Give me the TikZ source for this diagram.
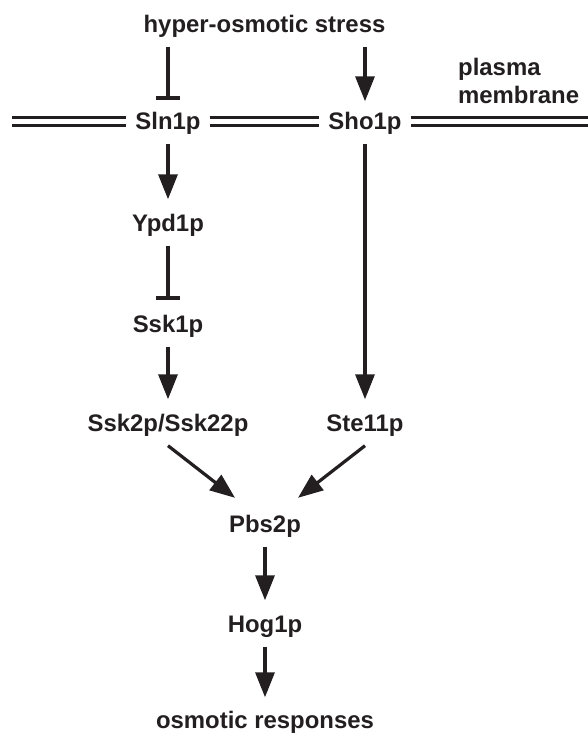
\documentclass[tikz,border=0pt]{standalone}
\usepackage{fontspec}
\setmainfont{Liberation Sans}
\usetikzlibrary{arrows.meta}
\definecolor{ink}{HTML}{231F20}
\begin{document}
\begin{tikzpicture}[x=1pt,y=-1pt,
  lbl/.style={font=\fontsize{23.9}{28}\selectfont\bfseries, text=ink,
    inner xsep=9pt, inner ysep=14.5pt, text height=17pt, text depth=0pt, anchor=base},
  act/.style={draw=ink, line width=3.2pt, -{Triangle[length=25pt,width=19pt]}},
  inh/.style={draw=ink, line width=3.2pt, -{Bar[width=24pt,line width=4pt]}},
  membrane/.style={draw=ink, line width=2.2pt, double=white, double distance=5.8pt}]
\useasboundingbox (0,0) rectangle (587,734);

% stimulus and membrane proteins
\node[lbl] (stress) at (264.5,32) {hyper-osmotic stress};
\node[lbl] (sln) at (168,129) {Sln1p};
\node[lbl] (sho) at (365,129) {Sho1p};
\node[font=\fontsize{23.9}{28}\selectfont\bfseries, text=ink, inner sep=0pt,
  align=left, anchor=north west] (pm) at (458,58) {plasma\\membrane};

% Sln1p branch
\node[lbl] (ypd) at (168,231) {Ypd1p};
\node[lbl] (ssk1) at (168,332) {Ssk1p};
\node[lbl] (ssk2) at (168,431) {Ssk2p/Ssk22p};
% Sho1p branch
\node[lbl] (ste) at (365,431) {Ste11p};
% common MAPK module
\node[lbl] (pbs) at (265,532) {Pbs2p};
\node[lbl] (hog) at (265,632) {Hog1p};
\node[lbl] (resp) at (265,728) {osmotic responses};

% plasma membrane (double line)
\coordinate (mL) at (12,121.5);
\coordinate (mR) at (595,121.5);
\draw[membrane] (mL) -- (mL -| sln.west);
\draw[membrane] (sln.east |- mL) -- (sho.west |- mL);
\draw[membrane] (sho.east |- mL) -- (mR);

% signalling connectors
\draw[inh] (stress.south -| sln.south) -- ([yshift=-2.5pt]sln.north);
\draw[act] (stress.south -| sho.south) -- ([yshift=-4pt]sho.north);
\draw[act] (sln.south) -- (ypd.north);
\draw[inh] (ypd.south) -- (ssk1.north);
\draw[act] (ssk1.south) -- (ssk2.north);
\draw[act] (sho.south) -- (ste.north);
\draw[act] (ssk2.south) -- ([xshift=-30pt,yshift=2.5pt]pbs.north);
\draw[act] (ste.south) -- ([xshift=33pt,yshift=2.5pt]pbs.north);
\draw[act] (pbs.south) -- (hog.north);
\draw[act] (hog.south) -- ([yshift=-1pt]resp.north);
\end{tikzpicture}
\end{document}
